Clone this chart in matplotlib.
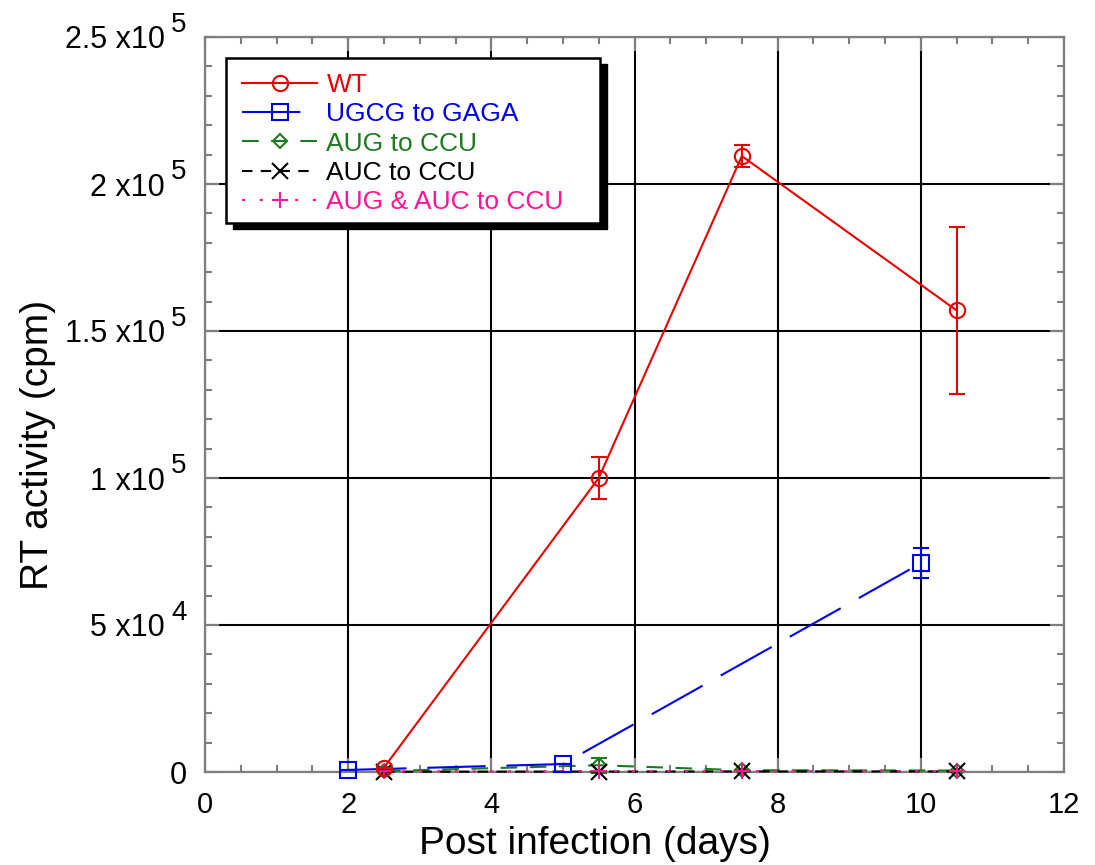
import matplotlib
matplotlib.use("Agg")
import matplotlib.pyplot as plt
from matplotlib.patches import Rectangle
from matplotlib.lines import Line2D
from matplotlib.ticker import MultipleLocator, FixedLocator, NullFormatter

plt.rcParams['font.family'] = ['Liberation Sans', 'DejaVu Sans']

# ---- data ----
wt_x = [2.5, 5.5, 7.5, 10.5]
wt_y = [1500, 100000, 209500, 157000]
wt_err = [0, 7200, 3700, 28500]

ugcg_x = [2, 5, 10]
ugcg_y = [700, 2700, 71000]
ugcg_err = [0, 0, 5100]

aug_x = [2.5, 5.5, 7.5, 10.5]
aug_y = [300, 2300, 600, 500]
aug_err = [0, 2500, 0, 0]

auc_x = [2.5, 5.5, 7.5, 10.5]
auc_y = [100, 150, 200, 200]

both_x = [2.5, 5.5, 7.5, 10.5]
both_y = [200, 300, 300, 300]

labels = ['WT', 'UGCG to GAGA', 'AUG to CCU', 'AUC to CCU', 'AUG & AUC to CCU']
colors = ['#e60000', '#0000e6', '#1f7a1f', '#000000', '#ff1493']

yticks = [0, 50000, 100000, 150000, 200000, 250000]
ytick_mant = ['0', '5 x10', '1 x10', '1.5 x10', '2 x10', '2.5 x10']
ytick_exp = ['', '4', '5', '5', '5', '5']
xticks = [0, 2, 4, 6, 8, 10, 12]

fig = plt.figure(figsize=(10.95, 8.65), dpi=100)
L, R, T, B = 205, 1064, 37, 772
W, H = 1095, 865
ax = fig.add_axes([L / W, 1 - B / H, (R - L) / W, (B - T) / H])

def px2ax(x, y):
    return (x - L) / (R - L), (B - y) / (B - T)

lw = 1.5
styles = [
    dict(color=colors[0], ls='-', marker='o', ms=11, mfc='none'),
    dict(color=colors[1], ls=(0, (28, 10)), marker='s', ms=11, mfc='none'),
    dict(color=colors[2], ls=(0, (8, 6)), marker='D', ms=7, mfc='none'),
    dict(color=colors[3], ls=(0, (5, 4)), marker='x', ms=11),
    dict(color=colors[4], ls=(0, (1.5, 7)), marker='+', ms=12),
]
eb = dict(capsize=6, elinewidth=1.5, capthick=1.5, clip_on=False)

ax.errorbar(wt_x, wt_y, yerr=wt_err, lw=lw, mew=1.5, zorder=6, **styles[0], **eb)
ax.errorbar(ugcg_x, ugcg_y, yerr=ugcg_err, lw=lw, mew=1.5, zorder=5, **styles[1], **eb)
ax.errorbar(aug_x, aug_y, yerr=aug_err, lw=lw, mew=1.5, zorder=4, **styles[2], **eb)
ax.plot(auc_x, auc_y, lw=lw, mew=1.5, zorder=4.5, clip_on=False, **styles[3])
ax.plot(both_x, both_y, lw=lw, mew=1.5, zorder=4.6, clip_on=False, **styles[4])

ax.set_xlim(0, 12)
ax.set_ylim(0, 250000)
ax.xaxis.set_major_locator(FixedLocator(xticks))
ax.xaxis.set_minor_locator(MultipleLocator(0.5))
ax.set_yticks(yticks)
ax.yaxis.set_major_formatter(NullFormatter())
ax.yaxis.set_minor_locator(MultipleLocator(10000))

ax.grid(True, which='major', color='black', lw=1.5, zorder=1)
for s in ax.spines.values():
    s.set_color('#7f7f7f')
    s.set_linewidth(1.6)
ax.tick_params(which='both', direction='in', top=True, right=True, color='#7f7f7f',
               width=1.5, labelsize=21)
ax.tick_params(which='major', length=10)
ax.tick_params(axis='x', which='major', pad=14)
ax.tick_params(which='minor', length=5)
ax.set_axisbelow(True)

# y tick labels: mantissa + raised exponent
ytrans = ax.get_yaxis_transform()
for v, m, e in zip(yticks, ytick_mant, ytick_exp):
    if e:
        ax.annotate(m, xy=(0, v), xycoords=ytrans, xytext=(-40, 0),
                    textcoords='offset pixels', ha='right', va='center_baseline',
                    fontsize=22, annotation_clip=False)
        ax.annotate(e, xy=(0, v), xycoords=ytrans, xytext=(-34, 15),
                    textcoords='offset pixels', ha='left', va='center_baseline',
                    fontsize=20, annotation_clip=False)
    else:
        ax.annotate(m, xy=(0, v), xycoords=ytrans, xytext=(-18, 0),
                    textcoords='offset pixels', ha='right', va='center_baseline',
                    fontsize=22, annotation_clip=False)

ax.set_xlabel('Post infection (days)', fontsize=28)
ax.set_ylabel('RT activity (cpm)', fontsize=28)
ax.xaxis.set_label_coords(*px2ax(595, 826))
ax.yaxis.set_label_coords(*px2ax(56, 445))

# legend with custom frame + hard shadow
handles = [Line2D([], [], lw=lw, mew=1.5, **st) for st in styles]
x0, y0 = px2ax(226, 58)
x1, y1 = px2ax(600, 223)
shadow = Rectangle((x0 + 7 / (R - L), y1 - 6 / (B - T)), x1 - x0, y0 - y1,
                   transform=ax.transAxes, facecolor='black', edgecolor='black',
                   lw=1, zorder=9, clip_on=False)
frame = Rectangle((x0, y1), x1 - x0, y0 - y1, transform=ax.transAxes,
                  facecolor='white', edgecolor='black', lw=1.8, zorder=9.5,
                  clip_on=False)
ax.add_patch(shadow)
ax.add_patch(frame)
ax_, ay_ = px2ax(242, 73)
leg = ax.legend(handles, labels, loc='upper left', bbox_to_anchor=(ax_, ay_),
                fontsize=19, frameon=False, handlelength=2.85, handletextpad=0.35,
                labelspacing=0.2, borderpad=0, borderaxespad=0,
                labelcolor='linecolor', numpoints=1)
leg.set_zorder(10)

fig.savefig('out.png', dpi=100)
